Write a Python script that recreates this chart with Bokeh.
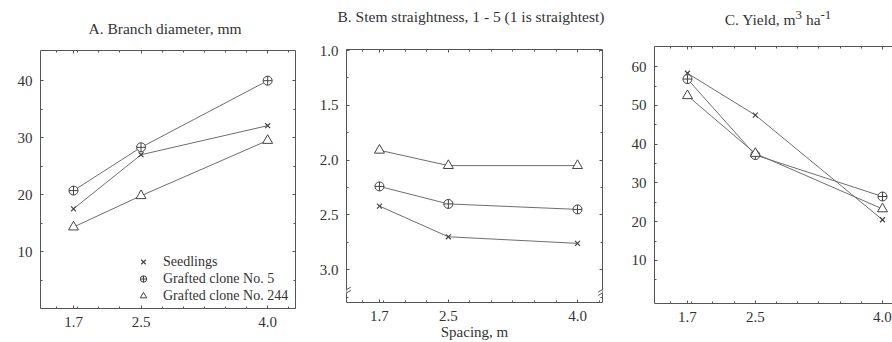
from bokeh.plotting import figure
from bokeh.layouts import row, column
from bokeh.models import (Range1d, LinearAxis, FixedTicker, Legend, LegendItem,
                          Arrow, BoxAnnotation, Div)
from bokeh.embed import file_html
from bokeh.resources import INLINE
import numpy as np

# ---------------- data ----------------
spacing = [1.7, 2.5, 4.0]
spacing_labels = ["1.7", "2.5", "4.0"]
series_names = ["Seedlings", "Grafted clone No. 5", "Grafted clone No. 244"]

branch_seedlings = [17.5, 27.0, 32.1]
branch_clone5 = [20.7, 28.3, 40.0]
branch_clone244 = [14.3, 19.8, 29.5]

straight_seedlings = [2.42, 2.70, 2.76]
straight_clone5 = [2.24, 2.40, 2.45]
straight_clone244 = [1.91, 2.05, 2.05]

yield_seedlings = [58.3, 47.5, 20.5]
yield_clone5 = [56.8, 37.2, 26.5]
yield_clone244 = [52.5, 37.6, 23.3]

a_yticks = [10, 20, 30, 40]
b_yticks = [1.0, 1.5, 2.0, 2.5, 3.0]
b_ytick_labels = ["1.0", "1.5", "2.0", "2.5", "3.0"]
c_yticks = [10, 20, 30, 40, 50, 60]

title_a = "A. Branch diameter, mm"
title_b = "B. Stem straightness, 1 - 5 (1 is straightest)"
title_c = "C. Yield, m<sup>3</sup> ha<sup>-1</sup>"

FONT = "'Liberation Serif', 'Times New Roman', serif"
TXT = "#333333"
LINE = "#6e6e6e"
MARK = "#444444"
AX = "#555555"
H = 342
DH = 40  # title strip height


def title_div(text, width, top, dx):
    html = (f'<div style="width:{width}px; white-space:nowrap; text-align:center; '
            f'line-height:20px; padding-top:{top}px; position:relative; left:{dx}px; '
            f'font-size:15.5px; color:{TXT};">'
            f'{text}</div>')
    return Div(text=html, width=width, height=DH, margin=0,
               styles={"font-family": FONT, "font-size": "15.5px",
                       "color": TXT, "overflow": "visible"})


def make_fig(width, bl, br, bt, bb, xr, yr):
    p = figure(width=width, height=H - DH, output_backend="svg", toolbar_location=None,
               x_range=Range1d(*xr), y_range=Range1d(*yr),
               min_border_left=bl, min_border_right=br, min_border_top=bt,
               min_border_bottom=bb, outline_line_color=None, margin=0,
               background_fill_color="white", border_fill_color="white")
    p.grid.visible = False
    return p


def style_axis(ax, labels=True):
    ax.axis_line_color = AX
    ax.axis_line_width = 1
    ax.major_tick_in = 3
    ax.major_tick_out = 0
    ax.minor_tick_in = 2
    ax.minor_tick_out = 0
    ax.major_tick_line_color = AX
    ax.minor_tick_line_color = AX
    if labels:
        ax.major_label_text_font = FONT
        ax.major_label_text_font_size = "15px"
        ax.major_label_text_color = TXT
        ax.major_label_standoff = 8
    else:
        ax.major_label_text_font_size = "1px"
        ax.major_label_text_color = None
        ax.major_label_standoff = 0


def add_axes(p, xticker, yticker, yoverrides=None, right=True):
    xa = p.xaxis[0]
    xa.ticker = xticker
    xa.major_label_overrides = {t: l for t, l in zip(spacing, spacing_labels)}
    style_axis(xa)
    ya = p.yaxis[0]
    ya.ticker = yticker
    if yoverrides:
        ya.major_label_overrides = yoverrides
    style_axis(ya)
    top = LinearAxis(ticker=xticker)
    style_axis(top, labels=False)
    p.add_layout(top, "above")
    if right:
        ra = LinearAxis(ticker=yticker)
        style_axis(ra, labels=False)
        p.add_layout(ra, "right")
    return xa


def draw_series(p, ys_list):
    rs = []
    markers = [("x", 7, 1.2), ("circle_cross", 9, 1.0), ("triangle", 10, 1.0)]
    for ys, (m, s, w) in zip(ys_list, markers):
        p.line(spacing, ys, line_color=LINE, line_width=1)
        r = p.scatter(spacing, ys, marker=m, size=s, line_color=MARK,
                      fill_color="white", line_width=w)
        rs.append(r)
    return rs


xminor = list(np.arange(1.5, 4.3, 0.25))
xticker = FixedTicker(ticks=spacing, minor_ticks=xminor)

# ---------------- A ----------------
pa = make_fig(300, 40, 5, 50 - DH, 34, (1.309, 4.33), (0.0, 45.3))
add_axes(pa, xticker, FixedTicker(ticks=a_yticks, minor_ticks=list(range(5, 45, 5))))
ra = draw_series(pa, [branch_seedlings, branch_clone5, branch_clone244])
legend = Legend(items=[LegendItem(label=n, renderers=[r]) for n, r in zip(series_names, ra)],
                location=(95, 4), background_fill_alpha=0, border_line_color=None,
                label_text_font=FONT, label_text_font_size="14px", label_text_color=TXT,
                glyph_width=16, glyph_height=17, label_height=17, spacing=0,
                padding=0, margin=0, label_standoff=12)
pa.add_layout(legend)

# ---------------- B ----------------
pb = make_fig(320, 46, 18, 49 - DH, 39, (1.317, 4.29), (3.3, 0.99))
xb = add_axes(pb, xticker, FixedTicker(ticks=b_yticks, minor_ticks=list(np.arange(1.25, 3.3, 0.5))),
              yoverrides={t: l for t, l in zip(b_yticks, b_ytick_labels)})
draw_series(pb, [straight_seedlings, straight_clone5, straight_clone244])
xb.axis_label = "Spacing, m"
xb.axis_label_standoff = 0
xb.axis_label_text_font = FONT
xb.axis_label_text_font_size = "15px"
xb.axis_label_text_font_style = "normal"
xb.axis_label_text_color = TXT

# axis break marks
for xe in (pb.x_range.start, pb.x_range.end):
    pb.add_layout(BoxAnnotation(left=xe - 0.02, right=xe + 0.02, top=3.185, bottom=3.215,
                                fill_color="white", fill_alpha=1, line_color=None,
                                level="overlay"))
    for yy in (3.18, 3.21):
        pb.add_layout(Arrow(end=None, x_start=xe - 0.05, y_start=yy + 0.025,
                            x_end=xe + 0.05, y_end=yy - 0.02,
                            line_color=AX, line_width=1, level="overlay"))

# ---------------- C ----------------
pc = make_fig(272, 34, 0, 46 - DH, 39, (1.311, 4.118), (-1.1, 65.2))
add_axes(pc, xticker, FixedTicker(ticks=c_yticks, minor_ticks=list(range(5, 65, 5))), right=False)
draw_series(pc, [yield_seedlings, yield_clone5, yield_clone244])

layout = row(column(title_div(title_a, 300, 19, 15), pa, spacing=0),
             column(title_div(title_b, 320, 7, 11), pb, spacing=0),
             column(title_div(title_c, 272, 5, 22), pc, spacing=0), spacing=0)
open("out.html", "w").write(file_html(layout, INLINE))
